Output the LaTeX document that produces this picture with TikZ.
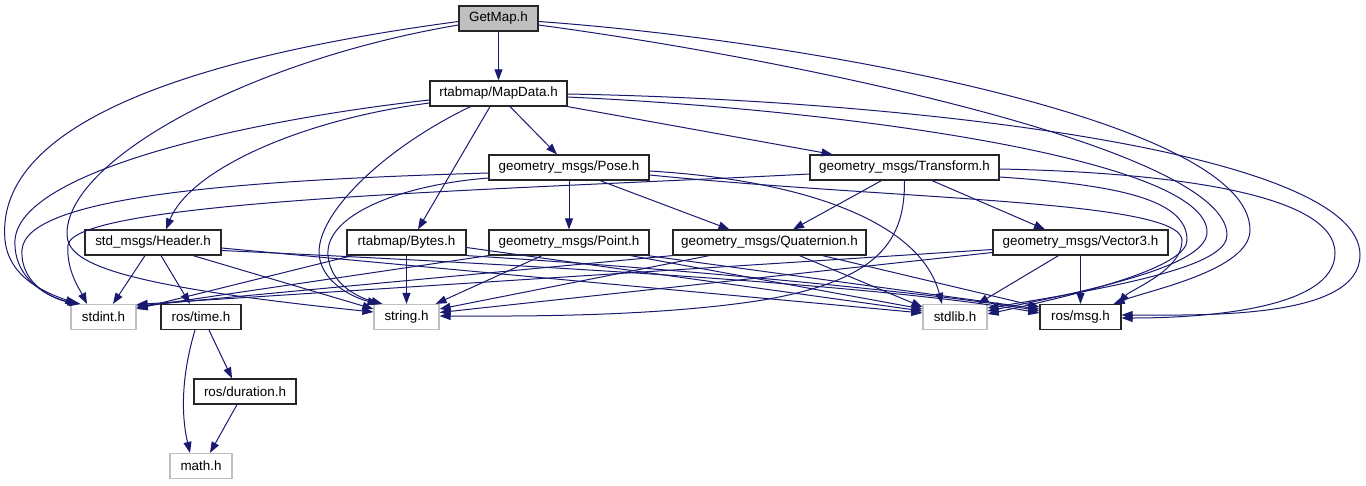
\documentclass[tikz,border=0pt]{standalone}
\usepackage{fontspec}
\setmainfont{Liberation Sans}
\usetikzlibrary{arrows.meta,calc}
\definecolor{edgecol}{HTML}{191970}
\definecolor{undoc}{HTML}{BFBFBF}
\begin{document}
\begin{tikzpicture}[x=1pt,y=-1pt,
  box/.style={rectangle, inner sep=0pt, minimum height=25pt, fill=white,
    font=\fontsize{13.4}{15}\selectfont, line width=1.2pt},
  doc/.style={box, draw=black!85},
  udoc/.style={box, draw=undoc},
  e/.style={draw=edgecol, line width=1pt, -{Triangle[length=11pt,width=8pt]}}]
\useasboundingbox (0,0) rectangle (1366,485);
% nodes
\node[doc, fill=undoc, minimum width=79pt] (getmap) at (498.5,18.5) {GetMap.h};
\node[doc, minimum width=137pt] (mapdata) at (498.5,93.5) {rtabmap/MapData.h};
\node[doc, minimum width=160pt] (pose) at (569,167.5) {geometry\_msgs/Pose.h};
\node[doc, minimum width=189pt] (transform) at (904.5,167.5) {geometry\_msgs/Transform.h};
\node[doc, minimum width=136pt] (header) at (153,242.5) {std\_msgs/Header.h};
\node[doc, minimum width=119pt] (bytes) at (406.5,242.5) {rtabmap/Bytes.h};
\node[doc, minimum width=160pt] (point) at (569,242.5) {geometry\_msgs/Point.h};
\node[doc, minimum width=193pt] (quat) at (769.5,242.5) {geometry\_msgs/Quaternion.h};
\node[doc, minimum width=175pt] (vector3) at (1080.5,242.5) {geometry\_msgs/Vector3.h};
\node[udoc, minimum width=65pt] (stdint) at (103.5,317) {stdint.h};
\node[doc, minimum width=80pt] (time) at (201,317) {ros/time.h};
\node[udoc, minimum width=65pt] (string) at (406.5,317) {string.h};
\node[udoc, minimum width=64pt] (stdlib) at (955,317) {stdlib.h};
\node[doc, minimum width=81pt] (msg) at (1080.5,317) {ros/msg.h};
\node[doc, minimum width=102pt] (duration) at (245,391.5) {ros/duration.h};
\node[udoc, minimum width=62pt] (math) at (201,466) {math.h};

% GetMap.h
\draw[e] (getmap) -- (mapdata);
\draw[e] ($(getmap.west)+(0,3)$) .. controls (170,60) and (-5,130) .. (5,240)
   .. controls (9,280) and (50,294) .. ($(stdint.north)+(-27,0)$);
\draw[e] ($(getmap.west)+(0,6.5)$) .. controls (250,60) and (65,160) .. (67,235)
   .. controls (68,262) and (110,285) .. ($(string.west)+(0,-5)$);
\draw[e] ($(getmap.east)+(0,3)$) .. controls (800,40) and (1250,120) .. (1250,230)
   .. controls (1250,270) and (1150,290) .. ($(msg.north east)+(-8,0)$);
\draw[e] ($(getmap.east)+(0,6.5)$) .. controls (800,60) and (1227,150) .. (1227,235)
   .. controls (1227,262) and (1150,282) .. ($(stdlib.east)+(0,-9)$);

% MapData.h
\draw[e] ($(mapdata.south)+(11.5,0)$) -- ($(pose.north)+(-12,0)$);
\draw[e] ($(mapdata.south)+(-8.5,0)$) -- ($(bytes.north)+(11.5,0)$);
\draw[e] (mapdata.south east) -- ($(transform.north)+(-72,0)$);
\draw[e] ($(mapdata.south)+(-28,0)$) .. controls (380,150) and (310,220) .. (320,260)
   .. controls (326,285) and (355,298) .. ($(string.north)+(-28,0)$);
\draw[e] ($(mapdata.west)+(0,9.5)$) .. controls (300,120) and (190,170) .. ($(header.north)+(13,0)$);
\draw[e] ($(mapdata.west)+(0,6.5)$) .. controls (250,120) and (20,170) .. (15,240)
   .. controls (13,280) and (50,298) .. ($(stdint.north)+(-25,0)$);
\draw[e] ($(mapdata.east)+(0,0.5)$) .. controls (900,100) and (1360,150) .. (1360,255)
   .. controls (1360,320) and (1200,315) .. ($(msg.east)+(0,-2)$);
\draw[e] ($(mapdata.east)+(0,3.5)$) .. controls (850,110) and (1207,160) .. (1207,232)
   .. controls (1207,262) and (1120,285) .. ($(stdlib.east)+(0,-6)$);

% Pose.h
\draw[e] (pose) -- (point);
\draw[e] ($(pose.south)+(31,0)$) -- ($(quat.north)+(-40,0)$);
\draw[e] ($(pose.west)+(0,5.5)$) .. controls (250,180) and (25,195) .. (22,250)
   .. controls (20,285) and (55,300) .. ($(stdint.north)+(-23,0)$);
\draw[e] ($(pose.west)+(0,10.5)$) .. controls (400,185) and (325,215) .. (328,255)
   .. controls (330,285) and (360,298) .. ($(string.north)+(-24,0)$);
\draw[e] ($(pose.east)+(0,3.5)$) .. controls (800,180) and (920,220) .. ($(stdlib.north)+(-13,0)$);
\draw[e] ($(pose.east)+(0,7.5)$) .. controls (900,200) and (1180,200) .. (1182,240)
   .. controls (1183,270) and (1130,290) .. ($(msg.north east)+(-3,0)$);

% Transform.h
\draw[e] ($(transform.south)+(-23,0)$) -- ($(quat.north)+(23.5,0)$);
\draw[e] ($(transform.south)+(27.5,0)$) -- ($(vector3.north)+(-35.5,0)$);
\draw[e] ($(transform.west)+(0,6.5)$) .. controls (500,190) and (75,200) .. (68,245)
   .. controls (66,270) and (80,290) .. ($(stdint.north)+(-16.5,0)$);
\draw[e] (transform.south) .. controls (905,240) and (880,280) .. (763,300)
   .. controls (650,318) and (500,316) .. ($(string.east)+(0,-1)$);
\draw[e] ($(transform.east)+(0,1.5)$) .. controls (1150,172) and (1335,190) .. (1335,253)
   .. controls (1335,310) and (1200,318) .. ($(msg.east)+(0,1)$);
\draw[e] ($(transform.east)+(0,9.5)$) .. controls (1120,185) and (1187,200) .. (1187,240)
   .. controls (1187,265) and (1100,290) .. ($(stdlib.east)+(0,-3)$);

% Header.h
\draw[e] ($(header.south)+(-8,0)$) -- ($(stdint.north)+(9.5,0)$);
\draw[e] ($(header.south)+(8,0)$) -- ($(time.north)+(-11,0)$);
\draw[e] ($(header.south)+(40,0)$) -- ($(string.west)+(0,-8)$);
\draw[e] ($(header.east)+(0,5.5)$) -- ($(stdlib.west)+(0,-4)$);
\draw[e] ($(header.east)+(0,8)$) .. controls (600,268) and (900,288) .. ($(msg.west)+(0,-4)$);

% Bytes.h
\draw[e] (bytes) -- (string);
\draw[e] ($(bytes.south west)+(6,0)$) -- ($(stdint.east)+(0,-8)$);
\draw[e] ($(bytes.east)+(0,5)$) -- ($(stdlib.west)+(0,-6)$);
\draw[e] (bytes.south east) .. controls (700,270) and (950,295) .. ($(msg.west)+(0,-6)$);

% Point.h
\draw[e] ($(point.south)+(-27,0)$) -- ($(string.north east)+(-4,0)$);
\draw[e] (point.south west) -- ($(stdint.east)+(0,-9.5)$);
\draw[e] ($(point.south east)+(-19,0)$) -- ($(stdlib.west)+(0,-8)$);
\draw[e] ($(point.south east)+(-2,0)$) -- ($(msg.west)+(0,-8)$);

% Quaternion.h
\draw[e] (quat.south west) -- ($(stdint.east)+(0,-11)$);
\draw[e] ($(quat.south west)+(37,0)$) -- ($(string.east)+(0,-8)$);
\draw[e] ($(quat.south)+(30,0)$) -- ($(stdlib.west)+(0,-10)$);
\draw[e] ($(quat.south)+(53,0)$) -- ($(msg.west)+(0,-10)$);

% Vector3.h
\draw[e] ($(vector3.west)+(0,7)$) -- ($(stdint.east)+(0,-12.5)$);
\draw[e] ($(vector3.west)+(0,10)$) -- ($(string.east)+(0,-4.5)$);
\draw[e] ($(vector3.south)+(-22,0)$) -- ($(stdlib.north east)+(-10,0)$);
\draw[e] (vector3) -- (msg);

% ros/time.h, ros/duration.h
\draw[e] ($(time.south)+(8,0)$) -- ($(duration.north)+(-13,0)$);
\draw[e] ($(time.south)+(-6,0)$) .. controls (183,370) and (180,410) .. ($(math.north)+(-11,0)$);
\draw[e] ($(duration.south)+(-8,0)$) -- ($(math.north)+(9,0)$);
\end{tikzpicture}
\end{document}
